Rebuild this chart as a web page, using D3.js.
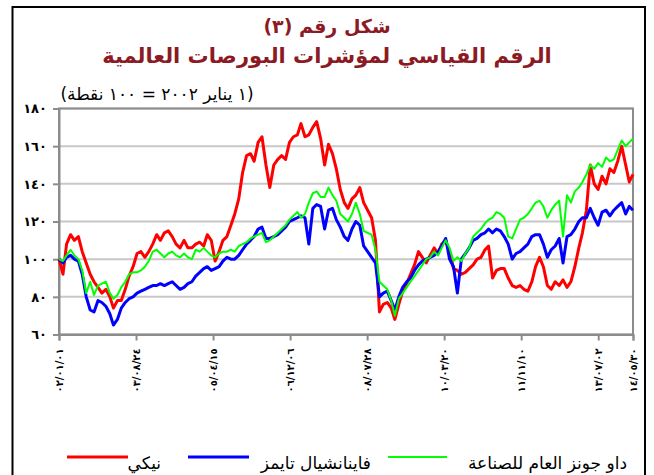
<!DOCTYPE html>
<html><head><meta charset="utf-8">
<script src="https://cdn.jsdelivr.net/npm/d3@7"></script>
<style>
html,body{margin:0;padding:0;background:#fff;}
svg{display:block;font-family:"DejaVu Sans",sans-serif;}
</style></head>
<body><svg id="c" width="654" height="475"></svg>
<script>
const months = [
"2002-01-01","2002-02-01","2002-03-01","2002-04-01","2002-05-01","2002-06-01","2002-07-01","2002-08-01","2002-09-01","2002-10-01","2002-11-01","2002-12-01",
"2003-01-01","2003-02-01","2003-03-01","2003-04-01","2003-05-01","2003-06-01","2003-07-01","2003-08-01","2003-09-01","2003-10-01","2003-11-01","2003-12-01",
"2004-01-01","2004-02-01","2004-03-01","2004-04-01","2004-05-01","2004-06-01","2004-07-01","2004-08-01","2004-09-01","2004-10-01","2004-11-01","2004-12-01",
"2005-01-01","2005-02-01","2005-03-01","2005-04-01","2005-05-01","2005-06-01","2005-07-01","2005-08-01","2005-09-01","2005-10-01","2005-11-01","2005-12-01",
"2006-01-01","2006-02-01","2006-03-01","2006-04-01","2006-05-01","2006-06-01","2006-07-01","2006-08-01","2006-09-01","2006-10-01","2006-11-01","2006-12-01",
"2007-01-01","2007-02-01","2007-03-01","2007-04-01","2007-05-01","2007-06-01","2007-07-01","2007-08-01","2007-09-01","2007-10-01","2007-11-01","2007-12-01",
"2008-01-01","2008-02-01","2008-03-01","2008-04-01","2008-05-01","2008-06-01","2008-07-01","2008-08-01","2008-09-01","2008-10-01","2008-11-01","2008-12-01",
"2009-01-01","2009-02-01","2009-03-01","2009-04-01","2009-05-01","2009-06-01","2009-07-01","2009-08-01","2009-09-01","2009-10-01","2009-11-01","2009-12-01",
"2010-01-01","2010-02-01","2010-03-01","2010-04-01","2010-05-01","2010-06-01","2010-07-01","2010-08-01","2010-09-01","2010-10-01","2010-11-01","2010-12-01",
"2011-01-01","2011-02-01","2011-03-01","2011-04-01","2011-05-01","2011-06-01","2011-07-01","2011-08-01","2011-09-01","2011-10-01","2011-11-01","2011-12-01",
"2012-01-01","2012-02-01","2012-03-01","2012-04-01","2012-05-01","2012-06-01","2012-07-01","2012-08-01","2012-09-01","2012-10-01","2012-11-01","2012-12-01",
"2013-01-01","2013-02-01","2013-03-01","2013-04-01","2013-05-01","2013-06-01","2013-07-01","2013-08-01","2013-09-01","2013-10-01","2013-11-01","2013-12-01",
"2014-01-01","2014-02-01","2014-03-01","2014-03-30"];

const nikkei = [
100,92,108,113,110,112,104,98,92,88,85,82,
84,80,74,78,78,84,91,96,103,104,101,104,
108,113,110,114,115,112,108,106,110,106,106,108,
109,107,113,110,99,104,110,112,118,124,132,146,
155,156,152,162,165,150,138,150,153,155,153,162,
165,166,172,165,166,170,173,164,150,161,156,148,
137,130,127,132,134,138,130,126,122,110,72,76,
77,74,68,76,83,87,92,97,104,101,98,102,
106,103,108,110,104,95,94,92,93,95,97,100,
101,105,107,90,94,95,95,90,86,85,86,84,
83,88,96,101,96,86,84,88,86,89,85,88,
96,106,114,126,150,140,137,144,140,148,146,152,
160,150,141,145];

const ftse = [
100,98,101,102,100,99,92,80,73,72,78,77,
75,71,65,68,74,77,79,80,82,83,84,85,
86,86,87,86,87,88,86,84,85,87,88,91,
93,95,96,94,95,96,99,101,100,100,102,105,
108,110,112,116,117,111,111,112,113,115,117,120,
121,122,123,122,108,127,129,128,116,126,127,121,
117,112,110,116,120,118,107,104,101,98,80,82,
83,78,73,80,85,88,90,94,97,99,100,101,
102,104,107,111,100,96,82,100,103,106,110,111,
113,114,116,114,116,115,112,108,100,103,104,106,
108,112,113,113,108,101,105,107,111,98,112,113,
116,120,122,122,127,122,118,125,126,123,126,128,
130,124,128,126];

const dow = [
100,99,102,105,102,100,94,82,88,81,86,87,
88,82,79,81,85,88,92,93,93,94,96,99,
104,105,103,101,103,104,102,101,103,101,100,105,
104,106,104,102,101,103,104,104,105,104,107,108,
109,111,112,113,114,109,110,112,114,116,118,121,
123,125,122,124,130,135,136,133,133,138,134,131,
124,122,120,124,130,124,115,114,113,105,88,86,
84,78,70,79,82,85,88,91,94,97,100,101,
104,102,106,110,106,99,101,99,103,106,112,114,
116,119,121,122,125,124,122,112,111,116,121,122,
124,127,130,131,128,122,126,129,131,112,134,130,
136,138,141,145,150,148,151,149,154,152,153,158,
163,160,162,164];

const yTickValues = [60,80,100,120,140,160,180];
const yTickLabels = ["٦٠","٨٠","١٠٠","١٢٠","١٤٠","١٦٠","١٨٠"];
const xTickDates = ["2002-01-01","2003-08-24","2005-04-15","2006-12-06","2008-07-28","2010-03-20","2011-11-10","2013-07-02","2014-03-30"];
const xTickLabels = ["٠٢/٠١/٠١","٠٣/٠٨/٢٤","٠٥/٠٤/١٥","٠٦/١٢/٠٦","٠٨/٠٧/٢٨","١٠/٠٣/٢٠","١١/١١/١٠","١٣/٠٧/٠٢","١٤/٠٥/٣٠"];
const seriesNames = ["نيكي","فاينانشيال تايمز","داو جونز العام للصناعة"];
const seriesColors = ["#ff0000","#0000ff","#00ff00"];
const titleText = "شكل رقم (٣)";
const subTitleText = "الرقم القياسي لمؤشرات البورصات العالمية";
const noteText = "(١ يناير ٢٠٠٢ = ١٠٠ نقطة)";

const parse = d3.timeParse("%Y-%m-%d");
const dates = months.map(parse);
const svg = d3.select("#c");

const L = 59, R = 633, T = 108.5, B = 334.5;
const x = d3.scaleTime().domain([parse("2002-01-01"), parse("2014-03-30")]).range([L, R]);
const y = d3.scaleLinear().domain([60, 180]).range([B, T]);

// outer frame
svg.append("rect").attr("x", 12.5).attr("y", 7).attr("width", 632.5).attr("height", 480)
  .attr("fill", "none").attr("stroke", "#000").attr("stroke-width", 2);

// titles
const titleColor = "#8b1a24";
svg.append("text").attr("x", 327).attr("y", 33).attr("text-anchor", "middle")
  .attr("direction", "rtl").attr("font-size", 19).attr("font-weight", "bold").attr("fill", titleColor).text(titleText);
svg.append("text").attr("x", 327).attr("y", 63).attr("text-anchor", "middle")
  .attr("direction", "rtl").attr("font-size", 21).attr("font-weight", "bold").attr("fill", titleColor).text(subTitleText);
svg.append("text").attr("x", 157).attr("y", 100).attr("text-anchor", "middle")
  .attr("direction", "rtl").attr("font-size", 17).attr("fill", "#000").text(noteText);

// gridlines
svg.append("g").selectAll("line").data(yTickValues).join("line")
  .attr("x1", L).attr("x2", R).attr("y1", d => y(d)).attr("y2", d => y(d))
  .attr("stroke", "#c8c8c8").attr("stroke-width", 2);

// plot border
svg.append("rect").attr("x", L).attr("y", T).attr("width", R - L).attr("height", B - T)
  .attr("fill", "none").attr("stroke", "#8c8c8c").attr("stroke-width", 2);

// y axis
const yAxis = svg.append("g").attr("transform", `translate(${L},0)`)
  .call(d3.axisLeft(y).tickValues(yTickValues).tickSize(6).tickPadding(6)
    .tickFormat((d, i) => yTickLabels[i]));
yAxis.select(".domain").attr("stroke", "#8c8c8c").attr("stroke-width", 2);
yAxis.selectAll(".tick line").attr("stroke", "#8c8c8c").attr("stroke-width", 2);
yAxis.selectAll(".tick text").attr("font-size", 13).attr("font-weight", "bold")
  .attr("font-family", "DejaVu Sans").attr("fill", "#000");

// x axis
const xAxis = svg.append("g").attr("transform", `translate(0,${B})`)
  .call(d3.axisBottom(x).tickValues(xTickDates.map(parse)).tickSize(6)
    .tickFormat((d, i) => xTickLabels[i]));
xAxis.select(".domain").attr("stroke", "#8c8c8c").attr("stroke-width", 2);
xAxis.selectAll(".tick line").attr("stroke", "#8c8c8c").attr("stroke-width", 2);
xAxis.selectAll(".tick text")
  .attr("font-size", 10).attr("font-weight", "bold").attr("font-family", "DejaVu Sans").attr("fill", "#000")
  .attr("direction", "ltr")
  .attr("text-anchor", "end").attr("dy", "0.35em")
  .attr("transform", "translate(0,14) rotate(-90)").attr("x", 0).attr("y", 0);

// series
const line = d3.line().x((d, i) => x(dates[i])).y(d => y(d));
const seriesData = [nikkei, ftse, dow];
const widths = [3, 3, 2];
seriesData.forEach((s, k) => {
  svg.append("path").datum(s).attr("d", line).attr("fill", "none")
    .attr("stroke", seriesColors[k]).attr("stroke-width", widths[k])
    .attr("stroke-linejoin", "round");
});

// legend
const legend = [
  {lx1: 67, lx2: 128, tx: 161},
  {lx1: 188, lx2: 249, tx: 371},
  {lx1: 388, lx2: 447, tx: 627}
];
legend.forEach((p, k) => {
  svg.append("line").attr("x1", p.lx1).attr("x2", p.lx2).attr("y1", 457).attr("y2", 457)
    .attr("stroke", seriesColors[k]).attr("stroke-width", k === 2 ? 2 : 3);
  svg.append("text").attr("x", p.tx).attr("y", 469).attr("text-anchor", "start")
    .attr("direction", "rtl").attr("font-size", 17).attr("fill", "#000").text(seriesNames[k]);
});
</script></body></html>
